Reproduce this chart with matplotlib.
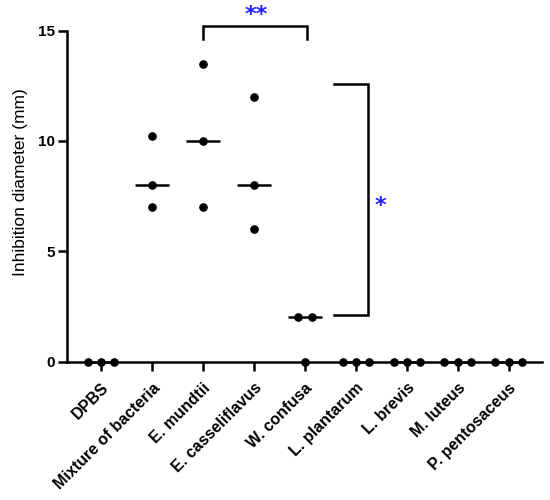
import numpy as np
import matplotlib
matplotlib.use("Agg")
import matplotlib.pyplot as plt

plt.rcParams['font.family'] = ['Liberation Sans', 'DejaVu Sans']

categories = ["DPBS", "Mixture of bacteria", "E. mundtii", "E. casseliflavus",
              "W. confusa", "L. plantarum", "L. brevis", "M. luteus", "P. pentosaceus"]
values = [
    [0, 0, 0],
    [10.2, 8, 7],
    [13.5, 10, 7],
    [12, 8, 6],
    [2, 2, 0],
    [0, 0, 0],
    [0, 0, 0],
    [0, 0, 0],
    [0, 0, 0],
]
y_ticks = [0, 5, 10, 15]

fig = plt.figure(figsize=(5.5, 5), dpi=100)
ax = fig.add_axes([0.121, 0.277, 0.864, 0.662])

lw = 1.8
spacing = 0.26
for i, vals in enumerate(values):
    vals = np.array(vals, dtype=float)
    xs = np.zeros_like(vals)
    for v in np.unique(vals):
        idx = np.where(vals == v)[0]
        n = len(idx)
        offs = (np.arange(n) - (n - 1) / 2) * spacing
        xs[idx] = i + offs
    med = np.median(vals)
    ax.plot([i - 0.33, i + 0.33], [med, med], color='black', lw=lw,
            solid_capstyle='butt', zorder=3, clip_on=False)
    ax.plot(xs, vals, 'o', color='black', ms=5.2, zorder=4, clip_on=False)

ax.set_xlim(-0.68, 8.65)
ax.set_ylim(0, 15)
ax.set_yticks(y_ticks)
ax.set_xticks(range(len(categories)))
ax.set_xticklabels(categories, rotation=45, ha='right', rotation_mode='anchor',
                   fontweight='bold', fontsize=11.5)
for lab in ax.get_yticklabels():
    lab.set_fontweight('bold')
    lab.set_fontsize(11)
ax.tick_params(axis='both', width=lw, length=6.5, color='black', pad=2)
ax.tick_params(axis='x', pad=7)
for s in ['top', 'right']:
    ax.spines[s].set_visible(False)
for s in ['left', 'bottom']:
    ax.spines[s].set_linewidth(lw)
ax.set_ylabel("Inhibition diameter (mm)", fontsize=12.5)
ax.yaxis.set_label_coords(-0.082, 0.542)

# significance brackets
star_color = '#1f1fff'
ax.plot([2, 2, 4.05, 4.05], [14.61, 15.22, 15.22, 14.61], color='black', lw=lw,
        clip_on=False, solid_joinstyle='miter')
ax.text(3.04, 15.8, "**", color=star_color, fontsize=16, fontweight='bold',
        family='DejaVu Sans', ha='center', va='center_baseline', clip_on=False)
ax.plot([4.57, 5.24, 5.24, 4.57], [12.57, 12.57, 2.1, 2.1], color='black', lw=lw,
        clip_on=False, solid_joinstyle='miter')
ax.text(5.49, 7.15, "*", color=star_color, fontsize=16, fontweight='bold',
        family='DejaVu Sans', ha='center', va='center_baseline', clip_on=False)

fig.savefig("out.png", dpi=100)
